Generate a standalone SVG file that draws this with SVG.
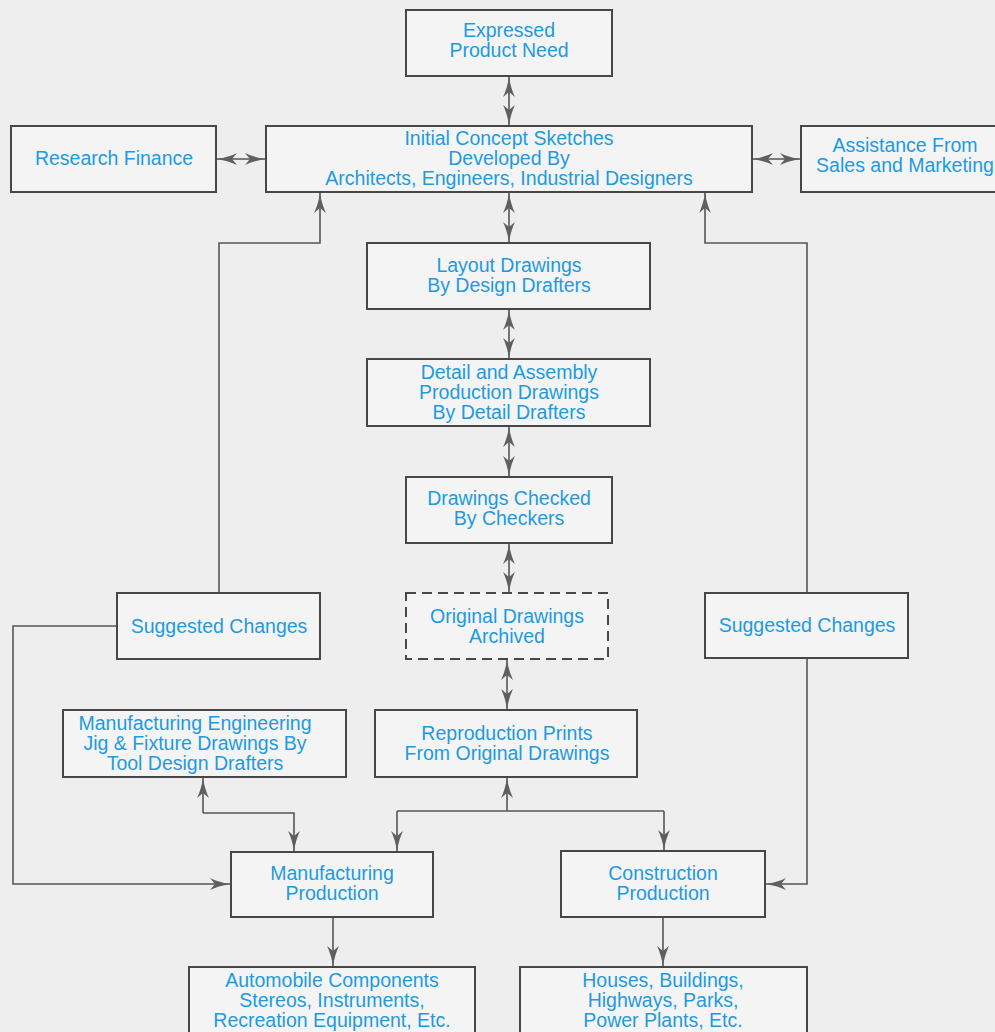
<svg xmlns="http://www.w3.org/2000/svg" width="995" height="1032" viewBox="0 0 995 1032">
<defs>
<style>
.box{fill:#f4f4f4;stroke:#474747;stroke-width:2}
.dash{stroke-dasharray:10 6}
.t{font-family:"Liberation Sans",Arial,Helvetica,sans-serif;font-size:19.5px;fill:#1e9be0;text-anchor:middle}
.c{fill:none;stroke:#555;stroke-width:1.6}
.a2{marker-start:url(#ah);marker-end:url(#ah)}
.a1{marker-end:url(#ah)}
</style>
<marker id="ah" viewBox="0 0 20 12" refX="20" refY="6" markerWidth="20" markerHeight="12" markerUnits="userSpaceOnUse" orient="auto-start-reverse">
<path d="M0,0 Q8,4 20,6 Q8,8 0,12 L5,6 Z" fill="#5f5f5f"/>
</marker>
</defs>
<rect width="995" height="1032" fill="#eeeeee"/>

<g id="connectors">
<line class="c a2" x1="509" y1="77" x2="509" y2="125"/>
<line class="c a2" x1="217" y1="159" x2="265" y2="159"/>
<line class="c a2" x1="753" y1="159" x2="800" y2="159"/>
<line class="c a2" x1="509" y1="193" x2="509" y2="242"/>
<line class="c a2" x1="509" y1="310" x2="509" y2="358"/>
<line class="c a2" x1="509" y1="427" x2="509" y2="476"/>
<line class="c a2" x1="509" y1="544" x2="509" y2="592"/>
<line class="c a2" x1="507" y1="660" x2="507" y2="709"/>
<polyline class="c a1" points="219,593 219,243 320,243 320,193"/>
<polyline class="c a1" points="807,593 807,243 705,243 705,193"/>
<polyline class="c a1" points="117,626 13,626 13,884 230,884"/>
<polyline class="c a1" points="807,658 807,884 766,884"/>
<line class="c a1" x1="507" y1="811" x2="507" y2="778"/>
<polyline class="c a1" points="397,811 397,851"/>
<polyline class="c" points="397,811 664,811"/>
<polyline class="c a1" points="664,811 664,850"/>
<line class="c a1" x1="203" y1="813" x2="203" y2="778"/>
<polyline class="c a1" points="203,813 294,813 294,851"/>
<line class="c a1" x1="333" y1="918" x2="333" y2="966"/>
<line class="c a1" x1="663" y1="918" x2="663" y2="966"/>
</g>

<g id="expressed">
<rect class="box" x="406" y="10" width="206" height="66"/>
<text class="t" x="509" y="37">Expressed</text>
<text class="t" x="509" y="57">Product Need</text>
</g>
<g id="initial">
<rect class="box" x="266" y="126" width="486" height="66"/>
<text class="t" x="509" y="145">Initial Concept Sketches</text>
<text class="t" x="509" y="165">Developed By</text>
<text class="t" x="509" y="185">Architects, Engineers, Industrial Designers</text>
</g>
<g id="research">
<rect class="box" x="11" y="126" width="205" height="66"/>
<text class="t" x="114" y="165">Research Finance</text>
</g>
<g id="assistance">
<rect class="box" x="801" y="126" width="210" height="66"/>
<text class="t" x="905" y="152">Assistance From</text>
<text class="t" x="905" y="172">Sales and Marketing</text>
</g>
<g id="layout">
<rect class="box" x="367" y="243" width="283" height="66"/>
<text class="t" x="509" y="272">Layout Drawings</text>
<text class="t" x="509" y="292">By Design Drafters</text>
</g>
<g id="detail">
<rect class="box" x="367" y="359" width="283" height="67"/>
<text class="t" x="509" y="379">Detail and Assembly</text>
<text class="t" x="509" y="399">Production Drawings</text>
<text class="t" x="509" y="419">By Detail Drafters</text>
</g>
<g id="checked">
<rect class="box" x="406" y="477" width="206" height="66"/>
<text class="t" x="509" y="505">Drawings Checked</text>
<text class="t" x="509" y="525">By Checkers</text>
</g>
<g id="archived">
<rect class="box dash" x="406" y="593" width="202" height="66"/>
<text class="t" x="507" y="623">Original Drawings</text>
<text class="t" x="507" y="643">Archived</text>
</g>
<g id="suggested-left">
<rect class="box" x="117" y="593" width="203" height="66"/>
<text class="t" x="219" y="633">Suggested Changes</text>
</g>
<g id="suggested-right">
<rect class="box" x="705" y="593" width="203" height="65"/>
<text class="t" x="807" y="632">Suggested Changes</text>
</g>
<g id="mfg-eng">
<rect class="box" x="63" y="710" width="283" height="67"/>
<text class="t" x="195" y="730">Manufacturing Engineering</text>
<text class="t" x="195" y="750">Jig &amp; Fixture Drawings By</text>
<text class="t" x="195" y="770">Tool Design Drafters</text>
</g>
<g id="reproduction">
<rect class="box" x="375" y="710" width="262" height="67"/>
<text class="t" x="507" y="740">Reproduction Prints</text>
<text class="t" x="507" y="760">From Original Drawings</text>
</g>
<g id="mfg-production">
<rect class="box" x="231" y="852" width="202" height="65"/>
<text class="t" x="332" y="880">Manufacturing</text>
<text class="t" x="332" y="900">Production</text>
</g>
<g id="construction">
<rect class="box" x="561" y="851" width="204" height="66"/>
<text class="t" x="663" y="880">Construction</text>
<text class="t" x="663" y="900">Production</text>
</g>
<g id="automobile">
<rect class="box" x="189" y="967" width="286" height="80"/>
<text class="t" x="332" y="987">Automobile Components</text>
<text class="t" x="332" y="1007">Stereos, Instruments,</text>
<text class="t" x="332" y="1027">Recreation Equipment, Etc.</text>
</g>
<g id="houses">
<rect class="box" x="520" y="967" width="287" height="80"/>
<text class="t" x="663" y="987">Houses, Buildings,</text>
<text class="t" x="663" y="1007">Highways, Parks,</text>
<text class="t" x="663" y="1027">Power Plants, Etc.</text>
</g>
</svg>
